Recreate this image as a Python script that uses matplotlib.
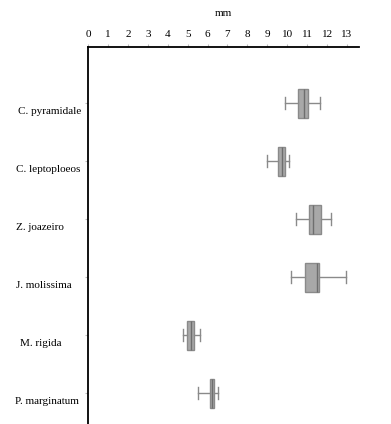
import matplotlib.pyplot as plt
from matplotlib.transforms import blended_transform_factory

# species and box statistics (mm)
species = ["C. pyramidale", "C. leptoploeos", "Z. joazeiro",
           "J. molissima", "M. rigida", "P. marginatum"]
whislo = [9.87, 9.00, 10.43, 10.17, 4.78, 5.52]
q1 = [10.53, 9.55, 11.08, 10.91, 4.99, 6.12]
med = [10.83, 9.74, 11.31, 11.48, 5.15, 6.21]
q3 = [11.06, 9.90, 11.68, 11.60, 5.31, 6.31]
whishi = [11.66, 10.10, 12.21, 12.94, 5.64, 6.54]

# left edge of each species label, in figure pixels
label_x = [18, 16, 16, 16, 20, 15]

plt.rcParams['font.family'] = ['Liberation Serif', 'DejaVu Serif']

fig = plt.figure(figsize=(3.91, 4.24), dpi=100)
ax = fig.add_axes([88 / 391, 0, (359 - 88) / 391, 1 - 47 / 424])

stats = []
for i, name in enumerate(species):
    stats.append(dict(label=name, whislo=whislo[i], q1=q1[i], med=med[i],
                      q3=q3[i], whishi=whishi[i], fliers=[]))

pos = list(range(len(species)))
ax.bxp(stats, positions=pos, vert=False, widths=0.5, capwidths=0.22,
       patch_artist=True, showfliers=False,
       boxprops=dict(facecolor="#a8a8a8", edgecolor="#8a8a8a", linewidth=1),
       medianprops=dict(color="#6e6e6e", linewidth=1),
       whiskerprops=dict(color="#8a8a8a", linewidth=1),
       capprops=dict(color="#8a8a8a", linewidth=1))

ax.set_ylim(5.534, -0.966)
ax.set_xlim(0, 13.6)
ax.set_xticks(range(14))
ax.xaxis.tick_top()
ax.xaxis.set_label_position('top')
ax.set_xlabel("mm", fontsize=8, labelpad=10)
ax.tick_params(axis='x', labelsize=8, length=2, color="#bbbbbb", pad=4)
ax.tick_params(axis='y', length=2, color="#bbbbbb")
ax.set_yticks(pos)
ax.set_yticklabels([])

# species labels, left aligned and sitting a little below each box
trans = blended_transform_factory(fig.dpi_scale_trans, ax.transData)
for i, name in enumerate(species):
    ax.text(label_x[i] / 100, pos[i] + 0.14, name, transform=trans, fontsize=8,
            ha="left", va="center", clip_on=False)

for s in ["right", "bottom"]:
    ax.spines[s].set_visible(False)
for s in ["top", "left"]:
    ax.spines[s].set_linewidth(1.3)
    ax.spines[s].set_color("black")

fig.savefig("out.png", dpi=100)
